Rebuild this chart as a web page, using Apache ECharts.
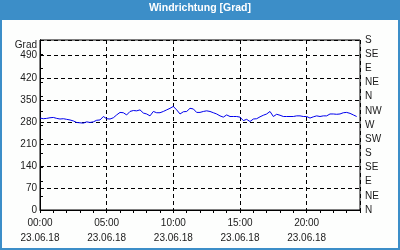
<!DOCTYPE html>
<html><head><meta charset="utf-8">
<script src="https://cdn.jsdelivr.net/npm/echarts@6/dist/echarts.min.js"></script>
<style>html,body{margin:0;padding:0;background:#fdfefd}#c{width:400px;height:250px}</style>
</head><body><div id="c"></div>
<script>
var title = 'Windrichtung [Grad]';
var times = ['00:00','00:15','00:30','00:45','01:00','01:15','01:30','01:45','02:00','02:15','02:30','02:45',
'03:00','03:15','03:30','03:45','04:00','04:15','04:30','04:45','05:00','05:15','05:30','05:45',
'06:00','06:15','06:30','06:45','07:00','07:15','07:30','07:45','08:00','08:15','08:30','08:45',
'09:00','09:15','09:30','09:45','10:00','10:15','10:30','10:45','11:00','11:15','11:30','11:45',
'12:00','12:15','12:30','12:45','13:00','13:15','13:30','13:45','14:00','14:15','14:30','14:45',
'15:00','15:15','15:30','15:45','16:00','16:15','16:30','16:45','17:00','17:15','17:30','17:45',
'18:00','18:15','18:30','18:45','19:00','19:15','19:30','19:45','20:00','20:15','20:30','20:45',
'21:00','21:15','21:30','21:45','22:00','22:15','22:30','22:45','23:00','23:15','23:30','23:45'];
var direction = [292,290,291,293,294,291,289,290,288,286,283,278,
277,276,280,278,280,285,286,297,290,289,293,302,
310,309,302,313,316,315,318,308,305,299,313,309,
309,313,318,323,329,318,305,312,313,323,321,310,
310,313,315,313,309,305,299,295,302,297,297,297,
295,284,288,281,289,290,296,301,305,313,297,304,
301,297,297,297,297,299,299,297,297,292,296,299,
297,299,299,305,305,304,305,309,310,307,302,297];
var dateLabel = '23.06.18';
var leftTicks = [0,70,140,210,280,350,420,490];
var compass = ['N','NE','E','SE','S','SW','W','NW','N','NE','E','SE','S'];

var data = times.map(function(t,i){var p=t.split(':');return [ +p[0] + (+p[1])/60, direction[i]];});
var font = '"Liberation Sans", Arial, sans-serif';
var fs = 10;
var chart = echarts.init(document.getElementById('c'), null, {renderer:'canvas'});
chart.setOption({
  animation:false,
  backgroundColor:'#fdfefd',
  graphic:[
    {type:'rect', z:-1, shape:{x:0,y:0,width:400,height:20}, style:{fill:'#3c8ec8'}},
    {type:'rect', z:-1, shape:{x:1,y:1,width:398,height:248}, style:{fill:null, stroke:'#3c8ec8', lineWidth:2}},
    {type:'text', left:'center', top:3, style:{text:title, fill:'#ffffff', font:'bold 10.5px '+font}},
    {type:'text', right:363, top:40, style:{text:'Grad', fill:'#1a1a1a', font:fs+'px '+font, textAlign:'right'}}
  ],
  grid:{left:40, right:40, top:40, bottom:40, show:true, borderColor:'#000', borderWidth:1, backgroundColor:'transparent'},
  xAxis:[{
    type:'value', min:0, max:24, interval:5, position:'bottom',
    axisLine:{show:true, lineStyle:{color:'#000'}},
    axisTick:{show:false},
    splitLine:{show:true, lineStyle:{color:'#000', type:[4,3], width:1}},
    axisLabel:{margin:6, color:'#1a1a1a', fontFamily:'Liberation Sans', fontSize:fs, lineHeight:15,
      formatter:function(v){ if(v>=24) return ''; var h=(v<10?'0':'')+v; return h+':00\n'+dateLabel; }}
  },{
    type:'value', min:0, max:24, interval:1, position:'bottom',
    axisLine:{show:false}, axisLabel:{show:false}, splitLine:{show:false},
    axisTick:{show:true, inside:false, length:3, lineStyle:{color:'#000'}}
  }],
  yAxis:[{
    type:'value', min:0, max:540, interval:70, position:'left',
    axisLine:{show:true, lineStyle:{color:'#000'}},
    axisTick:{show:false},
    splitLine:{show:true, lineStyle:{color:'#000', type:[4,3], width:1}},
    axisLabel:{margin:3, color:'#1a1a1a', fontFamily:'Liberation Sans', fontSize:fs,
      formatter:function(v){ return leftTicks.indexOf(v)>=0 ? String(v) : ''; }}
  },{
    type:'value', min:0, max:540, interval:45, position:'right',
    axisLine:{show:true, lineStyle:{color:'#000'}},
    axisTick:{show:true, length:3, lineStyle:{color:'#000'}},
    splitLine:{show:false},
    axisLabel:{margin:5, color:'#1a1a1a', fontFamily:'Liberation Sans', fontSize:fs,
      formatter:function(v){ return compass[Math.round(v/45)]; }}
  }],
  series:[{type:'line', xAxisIndex:0, yAxisIndex:0, data:data, showSymbol:false,
    lineStyle:{color:'#0000ee', width:1}}]
});
</script></body></html>
